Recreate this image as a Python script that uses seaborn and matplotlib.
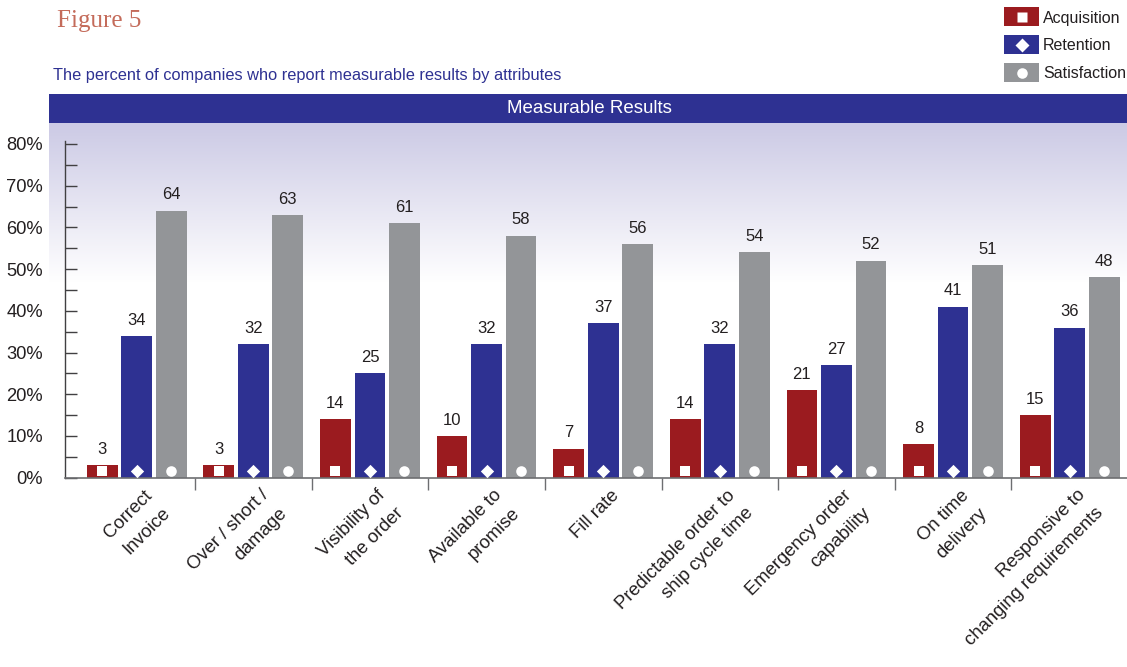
import numpy as np
import pandas as pd
import matplotlib
matplotlib.use("Agg")
import matplotlib.pyplot as plt
import matplotlib.transforms as mtransforms
from matplotlib.patches import Rectangle, Patch
from matplotlib.lines import Line2D
from matplotlib.colors import LinearSegmentedColormap
from matplotlib.legend_handler import HandlerBase
from matplotlib.ticker import FixedLocator
import seaborn as sns

# ---- data ----
attributes = [
    "Correct\nInvoice",
    "Over / short /\ndamage",
    "Visibility of\nthe order",
    "Available to\npromise",
    "Fill rate",
    "Predictable order to\nship cycle time",
    "Emergency order\ncapability",
    "On time\ndelivery",
    "Responsive to\nchanging requirements",
]
measures = ["Acquisition", "Retention", "Satisfaction"]
acquisition = [3, 3, 14, 10, 7, 14, 21, 8, 15]
retention = [34, 32, 25, 32, 37, 32, 27, 41, 36]
satisfaction = [64, 63, 61, 58, 56, 54, 52, 51, 48]
ytick_values = [0, 10, 20, 30, 40, 50, 60, 70, 80]
ytick_labels = ["0%", "10%", "20%", "30%", "40%", "50%", "60%", "70%", "80%"]

# ---- style ----
colors = ["#9B1B1F", "#2E3192", "#939598"]
marker_shapes = ["s", "D", "o"]
marker_sizes = [52, 46, 58]
ink = "#231F20"
navy = "#2E3192"

sns.set_style("white")
plt.rcParams["font.family"] = ["Liberation Sans Narrow", "Liberation Sans", "DejaVu Sans"]

W, H = 1127, 667
fig = plt.figure(figsize=(W / 100, H / 100), dpi=100)


def fx(px):
    return px / W


def fy(py):
    return 1 - py / H


class SwatchHandler(HandlerBase):
    """Coloured block (fixed height, in points) with a white symbol centred on it."""

    block_height = 13.7

    def create_artists(self, legend, orig_handle, xdescent, ydescent,
                       width, height, fontsize, trans):
        patch, mark = orig_handle
        cy = height / 2 - ydescent
        block = Rectangle((-xdescent, cy - self.block_height / 2), width,
                          self.block_height, facecolor=patch.get_facecolor(),
                          edgecolor="none", transform=trans)
        sym = Line2D([width / 2 - xdescent], [cy],
                     marker=mark.get_marker(), markersize=mark.get_markersize(),
                     markerfacecolor="white", markeredgecolor="none",
                     linestyle="none", transform=trans)
        return [block, sym]


# axes box: left edge 49px, top 123px, baseline 477.7px
ax = fig.add_axes([fx(49), fy(477.7), fx(1127) - fx(49), (477.7 - 123) / H])
ax.set_facecolor("none")

df = pd.DataFrame({
    "attribute": np.repeat(attributes, len(measures)),
    "measure": measures * len(attributes),
    "percent": np.column_stack([acquisition, retention, satisfaction]).ravel(),
})

sns.barplot(data=df, x="attribute", y="percent", hue="measure",
            order=attributes, hue_order=measures, palette=colors,
            width=0.888, gap=0.11, saturation=1, errorbar=None,
            legend=False, ax=ax, zorder=2, linewidth=0, edgecolor="none")

# scales
px_per_unit = (477.7 - 144.0) / 80
ax.set_ylim(0, (477.7 - 123) / px_per_unit)
group_px = 116.6
x_left = -0.5 - (78.4 - 49) / group_px
x_right = 8.5 - 1 / group_px
spine_x = -0.5 - (78.4 - 65) / group_px

# lavender fade behind the bars
fade = LinearSegmentedColormap.from_list("fade", ["#FFFFFF", "#CCCAE5"])
yy = np.linspace(0, 1, 400)
grad = np.clip((yy - 0.55) / 0.45, 0, 1).reshape(-1, 1)
ax.imshow(grad, cmap=fade, vmin=0, vmax=1, extent=[0, 1, 0, 1],
          transform=ax.transAxes, aspect="auto", origin="lower", zorder=0)
ax.set_xlim(x_left, x_right)

# spines
for s in ["top", "right"]:
    ax.spines[s].set_visible(False)
ax.spines["left"].set_position(("data", spine_x))
ax.spines["left"].set_bounds(0, 80.7)
ax.spines["left"].set_color("#414042")
ax.spines["left"].set_linewidth(1.0)
ax.spines["bottom"].set_bounds(spine_x, x_right)
ax.spines["bottom"].set_color("#6D6E71")
ax.spines["bottom"].set_linewidth(1.2)

# y ticks
ax.set_yticks(ytick_values)
ax.set_yticklabels(ytick_labels)
ax.yaxis.set_minor_locator(FixedLocator([v + 5 for v in ytick_values[:-1]]))
ax.tick_params(axis="y", which="both", direction="in", length=8.6, width=1.0,
               color="#414042", left=True)
ax.tick_params(axis="y", which="major", pad=15.8, labelsize=13.2, labelcolor=ink)

# x ticks: separators between groups
ax.set_xticks(range(len(attributes)))
ax.set_xticklabels([""] * len(attributes))
ax.xaxis.set_minor_locator(FixedLocator([i + 0.5 for i in range(len(attributes) - 1)]))
ax.tick_params(axis="x", which="major", length=0)
ax.tick_params(axis="x", which="minor", direction="out", length=8.6, width=1.0,
               color="#6D6E71", bottom=True)
ax.set_xlabel("")
ax.set_ylabel("")

# value labels and white symbols on each bar
sym_trans = ax.get_xaxis_transform() + mtransforms.ScaledTranslation(0, 7 / 100, fig.dpi_scale_trans)
for k, cont in enumerate(ax.containers):
    ax.bar_label(cont, fmt="%d", padding=6, fontsize=12, color=ink)
    xs = [b.get_x() + b.get_width() / 2 for b in cont]
    ax.scatter(xs, [0] * len(xs), transform=sym_trans, marker=marker_shapes[k],
               s=marker_sizes[k], color="white", linewidths=0, zorder=3,
               clip_on=False)

# rotated, right-aligned category labels
lab_trans = ax.get_xaxis_transform() + mtransforms.ScaledTranslation(
    5.0 / 72, -6.5 / 72, fig.dpi_scale_trans)
for i, lab in enumerate(attributes):
    ax.text(i, 0, lab, transform=lab_trans, rotation=45,
            rotation_mode="anchor", ha="right", va="top",
            multialignment="right", linespacing=1.65,
            fontsize=13.3, color=ink)

# header band
fig.add_artist(Rectangle((fx(49), fy(123)), fx(1127) - fx(49), (123 - 94) / H,
                         transform=fig.transFigure, facecolor=navy,
                         edgecolor="none"))
fig.text(fx(589), fy(108.5), "Measurable Results", ha="center", va="center",
         color="white", fontsize=13.5)

# titles
fig.text(fx(57), fy(27), "Figure 5", ha="left", va="baseline",
         family=["Liberation Serif", "DejaVu Serif"], fontsize=18,
         color="#C46B5A")
fig.text(fx(53), fy(80), "The percent of companies who report measurable results by attributes",
         ha="left", va="baseline", fontsize=11.8, color=navy)

# legend
leg_fs = 11.5
leg_px = leg_fs * 100 / 72
handles = [
    (Patch(facecolor=c, edgecolor="none"),
     Line2D([], [], marker=m, linestyle="none", markersize=ms))
    for c, m, ms in zip(colors, marker_shapes, [7.2, 6.8, 7.6])
]
fig.legend(handles, measures, loc="upper left",
           bbox_to_anchor=(fx(1004), fy(10.5)), frameon=False, borderpad=0,
           borderaxespad=0, handlelength=35 / leg_px, handleheight=0.7,
           handletextpad=4 / leg_px, labelspacing=0.81, fontsize=leg_fs,
           labelcolor=ink, handler_map={tuple: SwatchHandler()})

fig.savefig("out.png", dpi=100)
